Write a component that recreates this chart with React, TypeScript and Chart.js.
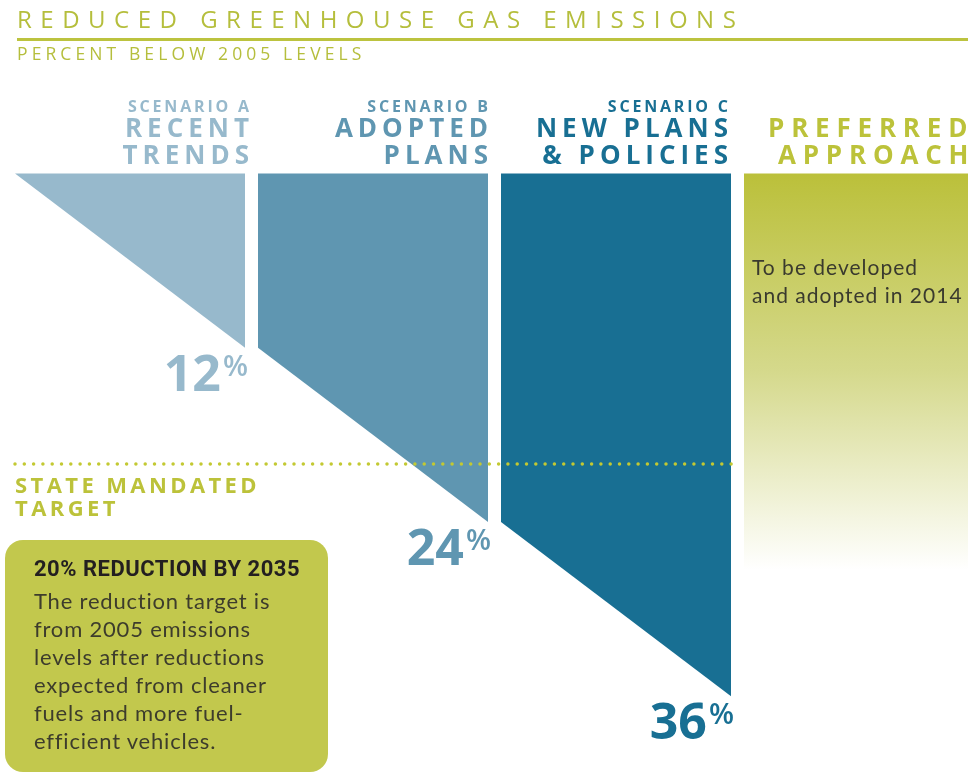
import React, { useEffect, useRef } from 'react';
import { Chart, registerables } from 'chart.js';
Chart.register(...registerables);

// ---------- data ----------
const TITLE = 'REDUCED GREENHOUSE GAS EMISSIONS';
const SUBTITLE = 'PERCENT BELOW 2005 LEVELS';
const SCENARIO_CODES = ['SCENARIO A', 'SCENARIO B', 'SCENARIO C'];
const SCENARIO_LINE1 = ['RECENT', 'ADOPTED', 'NEW PLANS'];
const SCENARIO_LINE2 = ['TRENDS', 'PLANS', '& POLICIES'];
const START_PCT = [0, 12, 24];
const END_PCT = [12, 24, 36];
const TARGET_PCT = 20;
const PREFERRED_LINES = ['PREFERRED', 'APPROACH'];
const PREFERRED_NOTE = ['To be developed', 'and adopted in 2014'];
const TARGET_LABEL = ['STATE MANDATED', 'TARGET'];
const BOX_TITLE = '20% REDUCTION BY 2035';
const BOX_LINES = [
  'The reduction target is',
  'from 2005 emissions',
  'levels after reductions',
  'expected from cleaner',
  'fuels and more fuel-',
  'efficient vehicles.',
];

// ---------- layout / style ----------
const W = 968;
const H = 774;
const X0 = 15;
const PITCH = 243;
const COL_W = 230 / 243;
const Y0 = 173.5;
const PX_PCT = 14.52;
const PREF_FADE = 27.3;
const TARGET_END = 2.963;
const COLORS = ['#97b9cc', '#5f96b1', '#186f93'];
const GREEN = '#bcc23a';

const FONT_BASE: Record<string, number> = { 'Open Sans': 0.888, Lato: 0.887, Roboto: 0.842 };

function Txt(props: any) {
  const { x, base, fs, font = 'Open Sans', w = 400, color, ls = 0, align = 'left', children } = props;
  const top = base - FONT_BASE[font] * fs;
  const style: any = {
    position: 'absolute',
    top,
    fontFamily: `"${font}"`,
    fontSize: fs,
    fontWeight: w,
    color,
    letterSpacing: ls,
    lineHeight: `${fs}px`,
    whiteSpace: 'nowrap',
    margin: 0,
  };
  if (align === 'left') style.left = x;
  else style.right = W - x - ls;
  return <div style={style}>{children}</div>;
}

const pctLabels = {
  id: 'pctLabels',
  afterDatasetsDraw(chart: any) {
    const c = chart.ctx;
    END_PCT.forEach((v, i) => {
      const meta = chart.getDatasetMeta(i);
      const pt = meta.data[meta.data.length - 1];
      if (!pt) return;
      const right = pt.x + 3;
      const base = pt.y + 43;
      c.save();
      c.fillStyle = COLORS[i];
      c.textBaseline = 'alphabetic';
      c.textAlign = 'right';
      c.font = '600 29px "Open Sans"';
      const pw = c.measureText('%').width;
      c.fillText('%', right, base - 36 + 21);
      c.font = '700 50px "Open Sans"';
      c.fillText(String(v), right - pw - 2, base);
      c.restore();
    });
  },
};

export default function App() {
  const ref = useRef<HTMLCanvasElement>(null);
  useEffect(() => {
    const canvas = ref.current!;
    const xMin = -X0 / PITCH;
    const xMax = (W - X0) / PITCH;
    const yMin = -Y0 / PX_PCT;
    const yMax = (H - Y0) / PX_PCT;
    const gradientFn = (ctx: any) => {
      const ch = ctx.chart;
      if (!ch.chartArea || !ch.scales.y) return GREEN;
      const y0 = ch.scales.y.getPixelForValue(0);
      const y1 = ch.scales.y.getPixelForValue(PREF_FADE);
      const g = ch.ctx.createLinearGradient(0, y0, 0, y1);
      g.addColorStop(0, '#bbc03a');
      g.addColorStop(0.5, '#d5d98c');
      g.addColorStop(1, '#ffffff');
      return g;
    };
    const datasets: any[] = [
      ...START_PCT.map((s, i) => ({
        data: [
          { x: i, y: s },
          { x: i + COL_W, y: END_PCT[i] },
        ],
        backgroundColor: COLORS[i],
        borderWidth: 0,
        pointRadius: 0,
        fill: { value: 0 },
        order: 1,
      })),
      {
        data: [
          { x: 3, y: PREF_FADE },
          { x: xMax + 1, y: PREF_FADE },
        ],
        backgroundColor: gradientFn,
        borderWidth: 0,
        pointRadius: 0,
        fill: { value: 0 },
        order: 1,
      },
      {
        data: [
          { x: 0, y: TARGET_PCT },
          { x: TARGET_END, y: TARGET_PCT },
        ],
        borderColor: '#c3c932',
        borderWidth: 3.5,
        borderDash: [0, 9.3],
        borderCapStyle: 'round',
        pointRadius: 0,
        fill: false,
        order: 0,
      },
    ];
    const chart = new Chart(canvas, {
      type: 'line',
      data: { datasets },
      options: {
        animation: false,
        responsive: false,
        devicePixelRatio: 1,
        layout: { padding: 0 },
        plugins: { legend: { display: false }, tooltip: { enabled: false } },
        scales: {
          x: { type: 'linear', min: xMin, max: xMax, display: false },
          y: { type: 'linear', min: yMin, max: yMax, reverse: true, display: false },
        },
      },
      plugins: [pctLabels],
    } as any);
    return () => chart.destroy();
  }, []);

  const hdrRight = [249, 488, 728];

  return (
    <div style={{ position: 'absolute', left: 0, top: 0, width: W, height: H, overflow: 'hidden', background: '#fff' }}>
      <canvas ref={ref} width={W} height={H} style={{ position: 'absolute', left: 0, top: 0, width: W, height: H }} />
      <Txt x={17} base={28} fs={24} w={400} color="#b5be3c" ls={8.5}>{TITLE}</Txt>
      <div style={{ position: 'absolute', left: 17, top: 37.5, width: W - 17, height: 3, background: '#bcc33f' }} />
      <Txt x={17} base={61} fs={17.5} w={400} color="#b5be3c" ls={4.1}>{SUBTITLE}</Txt>

      {SCENARIO_CODES.map((code, i) => (
        <React.Fragment key={code}>
          <Txt x={hdrRight[i]} base={112.7} fs={16} w={700} color={COLORS[i]} ls={2.8} align="right">{code}</Txt>
          <Txt x={hdrRight[i]} base={137} fs={26} w={700} color={COLORS[i]} ls={5} align="right">{SCENARIO_LINE1[i]}</Txt>
          <Txt x={hdrRight[i]} base={164} fs={26} w={700} color={COLORS[i]} ls={5} align="right">{SCENARIO_LINE2[i]}</Txt>
        </React.Fragment>
      ))}
      <Txt x={768} base={137} fs={26} w={700} color={GREEN} ls={6.8}>{PREFERRED_LINES[0]}</Txt>
      <Txt x={778} base={164} fs={26} w={700} color={GREEN} ls={6.8}>{PREFERRED_LINES[1]}</Txt>

      {PREFERRED_NOTE.map((t, i) => (
        <Txt key={t} x={752} base={275 + 28 * i} fs={21} font="Lato" color="#3a3a2e" ls={1}>{t}</Txt>
      ))}

      {TARGET_LABEL.map((t, i) => (
        <Txt key={t} x={15} base={493 + 23 * i} fs={22} w={700} color={GREEN} ls={3.4}>{t}</Txt>
      ))}

      <div style={{ position: 'absolute', left: 5, top: 540, width: 323, height: 232, borderRadius: 18, background: '#c2c84d' }} />
      <Txt x={34} base={577} fs={22} font="Roboto" w={700} color="#231f20" ls={0.5}>{BOX_TITLE}</Txt>
      {BOX_LINES.map((t, i) => (
        <Txt key={t} x={34} base={610 + 28 * i} fs={22} font="Lato" color="#3d3c2c" ls={0.8}>{t}</Txt>
      ))}
    </div>
  );
}
